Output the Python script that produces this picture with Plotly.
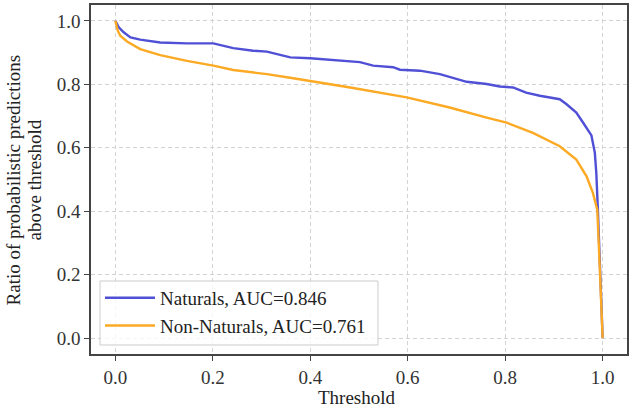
import plotly.graph_objects as go

# Naturals curve (threshold, ratio)
nat_t = [0.0, 0.007, 0.017, 0.031, 0.051, 0.092, 0.147, 0.201, 0.242, 0.283, 0.311, 0.338, 0.359,
         0.400, 0.447, 0.502, 0.529, 0.570, 0.584, 0.625, 0.666, 0.693, 0.721, 0.762, 0.789, 0.816,
         0.843, 0.871, 0.912, 0.926, 0.946, 0.960, 0.977, 0.984, 0.987, 0.990, 0.995, 1.0]
nat_y = [1.0, 0.980, 0.964, 0.948, 0.941, 0.932, 0.929, 0.929, 0.914, 0.906, 0.903, 0.893, 0.885,
         0.882, 0.877, 0.870, 0.859, 0.854, 0.846, 0.843, 0.832, 0.820, 0.808, 0.801, 0.793, 0.790,
         0.774, 0.764, 0.753, 0.737, 0.711, 0.679, 0.639, 0.584, 0.521, 0.415, 0.200, 0.0]

# Non-Naturals curve (threshold, ratio)
non_t = [0.0, 0.005, 0.010, 0.024, 0.051, 0.092, 0.147, 0.201, 0.242, 0.311, 0.365, 0.400, 0.482,
         0.598, 0.686, 0.762, 0.803, 0.857, 0.912, 0.946, 0.967, 0.980, 0.989, 0.994, 1.0]
non_y = [1.0, 0.969, 0.953, 0.935, 0.911, 0.892, 0.874, 0.859, 0.845, 0.832, 0.819, 0.811, 0.790,
         0.759, 0.727, 0.695, 0.679, 0.647, 0.605, 0.563, 0.510, 0.458, 0.405, 0.226, 0.0]

tick_vals = [0.0, 0.2, 0.4, 0.6, 0.8, 1.0]
tick_text = ["0.0", "0.2", "0.4", "0.6", "0.8", "1.0"]

FONT = "Liberation Serif"
FS = 19

fig = go.Figure()
fig.add_trace(go.Scatter(x=nat_t, y=nat_y, mode="lines", name="Naturals, AUC=0.846",
                         legendgroup="a", line=dict(color="#5050d6", width=2.4)))
fig.add_trace(go.Scatter(x=non_t, y=non_y, mode="lines", name="Non-Naturals, AUC=0.761",
                         legendgroup="b", line=dict(color="#fca923", width=2.4)))

axis_common = dict(
    showline=True, linecolor="#444444", linewidth=1.5, mirror=True,
    ticks="outside", ticklen=5, tickcolor="#444444", tickwidth=1.2,
    showgrid=True, gridcolor="#d3d3d3", griddash="4px,3px", gridwidth=1,
    zeroline=False, tickvals=tick_vals, ticktext=tick_text,
    tickfont=dict(family=FONT, size=FS, color="#333333"),
    range=[-0.05, 1.05], automargin=False,
)

fig.update_layout(
    width=633, height=409,
    margin=dict(l=91, r=6, t=5, b=55),
    paper_bgcolor="white", plot_bgcolor="white",
    font=dict(family=FONT, color="#222222"),
    xaxis=dict(**axis_common),
    yaxis=dict(**axis_common),
    legend=dict(x=0.0168, y=0.2152, xanchor="left", yanchor="top",
                bgcolor="rgba(0,0,0,0)", borderwidth=0, itemwidth=50,
                traceorder="grouped", tracegroupgap=0,
                font=dict(family=FONT, size=FS, color="#222222")),
    showlegend=True,
)

# legend frame
fig.add_shape(type="rect", xref="paper", yref="paper", x0=0.0168, x1=0.5354, y0=0.0258, y1=0.2092,
              line=dict(color="#cccccc", width=1), fillcolor="rgba(255,255,255,0.8)", layer="above")

title_font = dict(family=FONT, size=FS, color="#222222")
fig.add_annotation(text="Threshold", xref="paper", yref="paper", x=0.496, y=-0.126,
                   xanchor="center", yanchor="middle", showarrow=False, font=title_font)
fig.add_annotation(text="Ratio of probabilistic predictions", xref="paper", yref="paper",
                   x=-0.1437, y=0.5, xanchor="center", yanchor="middle", textangle=-90,
                   showarrow=False, font=title_font)
fig.add_annotation(text="above threshold", xref="paper", yref="paper",
                   x=-0.1045, y=0.5, xanchor="center", yanchor="middle", textangle=-90,
                   showarrow=False, font=title_font)

fig.write_html("out.html", config={"displayModeBar": False},
               post_script="document.body.style.margin='0';document.body.style.overflow='hidden';")
